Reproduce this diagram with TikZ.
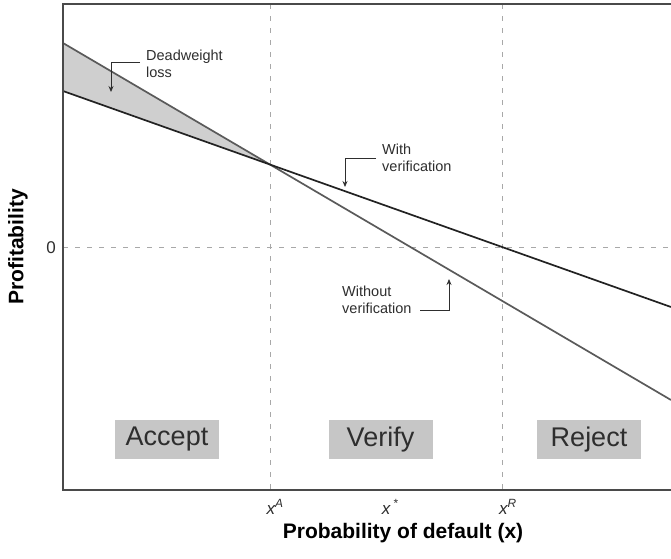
\documentclass[tikz,border=0pt]{standalone}
\usepackage{fontspec}
\setmainfont{Liberation Sans}
\usetikzlibrary{arrows.meta}
\definecolor{axisgray}{HTML}{4A4A4A}
\definecolor{guidegray}{HTML}{A8A8A8}
\definecolor{withcol}{HTML}{222222}
\definecolor{withoutcol}{HTML}{5A5A5A}
\definecolor{wedge}{HTML}{CFCFCF}
\definecolor{boxfill}{HTML}{C6C6C6}
\definecolor{txt}{HTML}{2E2E2E}
\begin{document}
\begin{tikzpicture}[x=1pt,y=-1pt,
  axisline/.style={draw=axisgray,line width=1.3pt},
  guide/.style={draw=guidegray,line width=0.9pt,dash pattern=on 5pt off 7pt},
  withline/.style={draw=withcol,line width=1.7pt},
  withoutline/.style={draw=withoutcol,line width=1.7pt},
  note/.style={font=\fontsize{14.5}{16.5}\selectfont,text=txt,align=left,inner sep=0pt,anchor=north west},
  pointer/.style={draw=txt,line width=0.8pt,-{Stealth[length=6pt,width=5pt]}},
  region/.style={fill=boxfill,text=txt,font=\fontsize{27}{30}\selectfont,minimum width=104pt,minimum height=39pt,inner sep=0pt},
  ticklbl/.style={font=\fontsize{17}{20}\selectfont\itshape,text=txt,inner sep=0pt},
  axislbl/.style={font=\fontsize{21}{24}\selectfont\bfseries,text=black,inner sep=0pt}]
\useasboundingbox (0,0) rectangle (671,558);
% frame coordinates
\coordinate (O) at (63,490);
\coordinate (TL) at (63,4);
\coordinate (TR) at (671,4);
\coordinate (BR) at (671,490);
\coordinate (A0) at (270,4);
\coordinate (A1) at (270,490);
\coordinate (R0) at (502,4);
\coordinate (R1) at (502,490);
\coordinate (Z0) at (63,247);
\coordinate (Z1) at (671,247);
% curves
\coordinate (W0) at (63,91);
\coordinate (W1) at (671,307);
\coordinate (N0) at (63,43);
\coordinate (N1) at (671,400);
\coordinate (I) at (270,164.5);
% wedge
\fill[wedge] (N0) -- (I) -- (W0) -- cycle;
% guides
\draw[guide] (A0) -- (A1);
\draw[guide] (R0) -- (R1);
\draw[guide] (Z0) -- (Z1);
% lines
\draw[withoutline] (N0) -- (N1);
\draw[withline] (W0) -- (W1);
% axes
\draw[axisline] (TR) -- (TL) -- (O) -- (BR);
% labels
\node[note] (dwl) at (146,50) {Deadweight\\loss};
\coordinate (dwlA) at (140,62);
\coordinate (dwlB) at (111,62);
\coordinate (dwlC) at (111,92);
\draw[pointer] (dwlA) -- (dwlB) -- (dwlC);
\node[note] (wv) at (382,144) {With\\verification};
\coordinate (wvA) at (376,158);
\coordinate (wvB) at (345,158);
\coordinate (wvC) at (345,187);
\draw[pointer] (wvA) -- (wvB) -- (wvC);
\node[note] (nv) at (342,286) {Without\\verification};
\coordinate (nvA) at (420,310);
\coordinate (nvB) at (449,310);
\coordinate (nvC) at (449,279);
\draw[pointer] (nvA) -- (nvB) -- (nvC);
% regions
\node[region] (acc) at (167,439.5) {Accept};
\node[region] (ver) at (380.5,439.5) {Verify};
\node[region] (rej) at (589,439.5) {Reject};
% ticks
\node[ticklbl] (xa) at (275,507) {x\textsuperscript{A}};
\node[ticklbl] (xs) at (390,507) {x\,\textsuperscript{*}};
\node[ticklbl] (xr) at (508,507) {x\textsuperscript{R}};
\node[font=\fontsize{17}{20}\selectfont,text=txt,inner sep=0pt] (zero) at (51,248) {0};
% axis titles
\node[axislbl] (xt) at (403,533) {Probability of default (x)};
\node[axislbl,rotate=90] (yt) at (18,247) {Profitability};
\end{tikzpicture}
\end{document}
